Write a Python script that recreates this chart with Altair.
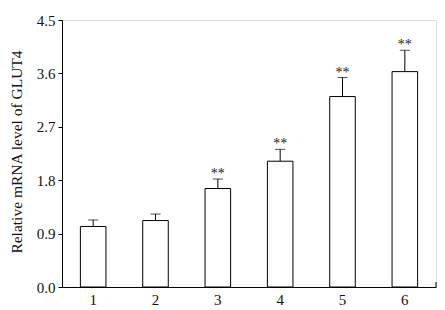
import altair as alt
import pandas as pd

groups = ["1", "2", "3", "4", "5", "6"]
means = [1.02, 1.12, 1.66, 2.12, 3.21, 3.63]
errors = [0.11, 0.11, 0.16, 0.20, 0.32, 0.36]
marks = ["", "", "**", "**", "**", "**"]
y_ticks = [0.0, 0.9, 1.8, 2.7, 3.6, 4.5]

df = pd.DataFrame({"group": groups, "mean": means, "err": errors, "mark": marks})
df["upper"] = df["mean"] + df["err"]

W, H = 374, 267
FONT = "Liberation Serif"

xs = alt.Scale(domain=groups, paddingInner=0.59, paddingOuter=0.295)
ys = alt.Scale(domain=[0, 4.5], nice=False)

x = alt.X("group:N", scale=xs, sort=groups,
          axis=alt.Axis(title=None, labelAngle=0, ticks=False, labelPadding=5,
                        labelFont=FONT, labelFontSize=15, labelColor="#111",
                        domainColor="black", domainWidth=1))
y_axis = alt.Axis(values=y_ticks, format=".1f", title="Relative mRNA level of GLUT4",
                  grid=False, tickSize=4, tickColor="black", labelPadding=3,
                  labelFont=FONT, labelFontSize=15, labelColor="#111",
                  titleFont=FONT, titleFontSize=15.5, titleFontWeight="normal",
                  titleColor="#111", titleX=-46, titleY=H / 2 - 2, titleAngle=270,
                  titleBaseline="middle", titleAlign="center",
                  domainColor="black", domainWidth=1)

base = alt.Chart(df)

err_line = base.mark_rule(color="black", strokeWidth=1).encode(
    x=x, y=alt.Y("mean:Q", scale=ys, axis=y_axis), y2="upper:Q")
cap = base.mark_tick(color="black", thickness=1, size=10, orient="horizontal").encode(
    x=x, y=alt.Y("upper:Q", scale=ys))
bars = base.mark_bar(fill="white", stroke="black", strokeWidth=1).encode(
    x=x, y=alt.Y("mean:Q", scale=ys))
stars = base.mark_text(font=FONT, fontSize=14, color="#222", baseline="bottom", dy=2).encode(
    x=x, y=alt.Y("upper:Q", scale=ys), text="mark:N")
end_tick = alt.Chart(pd.DataFrame({"v": [0]})).mark_rule(color="black", strokeWidth=1).encode(
    x=alt.value(W), y=alt.value(H), y2=alt.value(H - 5))

chart = alt.layer(err_line, bars, cap, stars, end_tick).properties(
    width=W, height=H,
    autosize=alt.AutoSizeParams(type="none"),
    padding={"left": 54, "top": 12, "right": 1, "bottom": 22},
).configure_view(stroke=None).configure(background="white")

chart.save("out.html", embed_options={"renderer": "svg", "actions": False})
